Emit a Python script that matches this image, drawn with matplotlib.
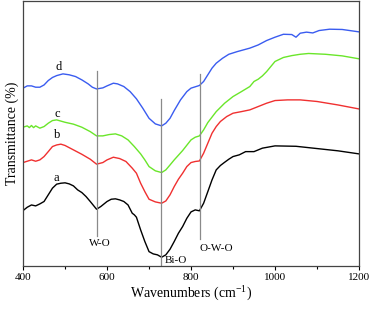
import numpy as np
import matplotlib.pyplot as plt

plt.rcParams['font.family'] = ['Liberation Serif', 'DejaVu Serif']
plt.rcParams['mathtext.fontset'] = 'custom'
plt.rcParams['mathtext.rm'] = 'Liberation Serif'

# curve a (black)
xa = [400, 410, 420, 430, 440, 450, 460, 470, 480, 490, 500, 510, 520, 530, 540, 550, 560, 575,
      585, 600, 610, 620, 630, 640, 650, 660, 665, 670, 680, 690, 700, 710, 720, 730, 740, 750,
      760, 770, 780, 790, 800, 810, 820, 830, 840, 850, 860, 870, 880, 890, 900, 915, 930, 950,
      970, 1000, 1050, 1100, 1150, 1200]
ya = [21.0, 22.25, 23.1, 22.75, 23.5, 24.4, 26.9, 29.4, 30.9, 31.25, 31.4, 31.0, 30.25, 28.75,
      27.75, 26.25, 24.4, 21.5, 22.5, 24.4, 25.25, 25.4, 25.0, 24.4, 23.1, 20.0, 19.4, 18.5,
      13.75, 9.4, 5.6, 4.75, 4.4, 3.5, 4.4, 6.5, 9.4, 12.5, 15.0, 18.1, 20.5, 21.25, 20.9,
      23.75, 28.1, 32.5, 36.25, 37.9, 39.1, 40.25, 41.25, 41.9, 43.1, 43.1, 44.4, 45.25, 45.1,
      44.25, 43.4, 42.25]

# curve b (red)
xb = [400, 410, 420, 430, 440, 450, 460, 470, 480, 490, 500, 520, 540, 560, 575, 590, 600, 615,
      630, 645, 660, 670, 680, 690, 700, 715, 730, 740, 750, 760, 770, 780, 790, 800, 810, 820,
      830, 840, 850, 860, 870, 885, 900, 920, 940, 960, 980, 1000, 1030, 1060, 1100, 1150, 1200]
yb = [39.0, 39.5, 40.0, 39.5, 40.0, 41.25, 43.1, 45.0, 45.6, 45.9, 45.4, 43.75, 42.1, 40.25,
      38.4, 39.0, 40.0, 41.0, 40.5, 39.4, 36.9, 35.0, 31.25, 28.1, 25.25, 24.25, 23.75, 24.6,
      26.9, 30.0, 32.75, 35.0, 37.5, 39.0, 39.4, 39.6, 42.5, 46.25, 50.0, 52.5, 54.4, 56.25,
      57.5, 58.1, 58.75, 60.0, 61.25, 62.25, 62.5, 62.5, 61.9, 60.6, 59.1]

# curve c (green)
xc = [400, 405, 410, 415, 420, 425, 430, 440, 450, 460, 470, 480, 500, 520, 540, 560, 575, 590,
      605, 620, 635, 650, 665, 680, 690, 700, 715, 730, 740, 750, 760, 780, 800, 810, 820, 830,
      840, 860, 880, 900, 920, 940, 950, 960, 970, 980, 1000, 1020, 1040, 1060, 1080, 1120,
      1160, 1200]
yc = [52.25, 52.5, 52.75, 52.1, 52.9, 52.1, 52.75, 51.9, 52.5, 53.75, 54.75, 55.0, 54.1, 53.4,
      52.25, 50.6, 49.0, 49.0, 49.5, 49.75, 49.0, 47.5, 45.0, 42.25, 40.0, 37.5, 35.9, 35.25,
      36.25, 38.1, 40.0, 43.5, 47.5, 48.5, 49.0, 51.25, 54.0, 58.1, 61.25, 63.75, 65.6, 67.5,
      69.4, 70.25, 71.5, 73.1, 76.9, 78.4, 79.1, 79.6, 79.9, 79.6, 79.0, 77.9]

# curve d (blue)
xd = [400, 410, 420, 430, 440, 450, 460, 470, 480, 495, 510, 525, 540, 555, 565, 575, 590, 600,
      615, 625, 640, 655, 670, 685, 700, 715, 730, 740, 750, 760, 775, 790, 800, 820, 830, 840,
      850, 860, 875, 890, 910, 940, 960, 980, 1000, 1020, 1040, 1050, 1060, 1075, 1090, 1105,
      1130, 1160, 1200]
yd = [66.9, 67.75, 67.75, 67.25, 67.25, 68.1, 69.75, 70.9, 71.6, 72.25, 71.9, 71.25, 70.0, 68.5,
      67.25, 66.6, 67.0, 67.75, 68.75, 68.5, 67.5, 65.6, 62.9, 59.4, 55.6, 53.5, 52.75, 53.75,
      55.6, 58.5, 62.5, 65.6, 66.9, 67.9, 69.4, 71.9, 74.4, 76.25, 78.1, 79.6, 80.6, 81.9,
      83.1, 84.75, 86.0, 87.1, 87.0, 86.0, 87.5, 87.9, 87.6, 88.5, 89.0, 88.9, 88.0]

# marker lines: position, bottom, top, label, label x, label y
bands = [575, 729, 822]
band_lo = [11.5, 0.25, 10.25]
band_hi = [73.5, 62.75, 72.25]
band_names = ["W-O", "Bi-O", "O-W-O"]
band_lx = [582, 765, 860]
band_ly = [8.75, 2.25, 6.6]

curve_names = ["a", "b", "c", "d"]
curve_lx = [480, 481, 481, 485]
curve_ly = [33.1, 49.4, 57.1, 75.0]

fig = plt.figure(figsize=(3.72, 3.11), dpi=100)
ax = fig.add_axes([0.062, 0.145, 0.903, 0.852])

ax.plot(xa, ya, color='black', lw=1.0)
ax.plot(xb, yb, color='#f03030', lw=1.0)
ax.plot(xc, yc, color='#6ae62a', lw=1.0)
ax.plot(xd, yd, color='#3a5cf0', lw=1.0)

for x, lo, hi in zip(bands, band_lo, band_hi):
    ax.plot([x, x], [lo, hi], color='#8a8a8a', lw=0.9)
for name, lx, ly in zip(band_names, band_lx, band_ly):
    ax.text(lx, ly, name, ha='center', va='center', fontsize=8)
for name, lx, ly in zip(curve_names, curve_lx, curve_ly):
    ax.text(lx, ly, name, ha='center', va='center', fontsize=9)

ax.set_xlim(400, 1200)
ax.set_ylim(0.25, 99.6)
ax.set_xticks([400, 600, 800, 1000, 1200])
ax.set_xticks([500, 700, 900, 1100], minor=True)
ax.set_yticks([])
ax.tick_params(axis='x', direction='out', length=3, width=0.8, labelsize=8, pad=2)
ax.tick_params(axis='x', which='minor', direction='out', length=2, width=0.8)
for s in ax.spines.values():
    s.set_color('#444444')
    s.set_linewidth(0.9)

ax.set_xlabel("Wavenumbers (cm$^{-1}$)", fontsize=10, labelpad=1)
ax.set_ylabel("Transmittance (%)", fontsize=10, labelpad=3)

fig.savefig("out.png", dpi=100)
